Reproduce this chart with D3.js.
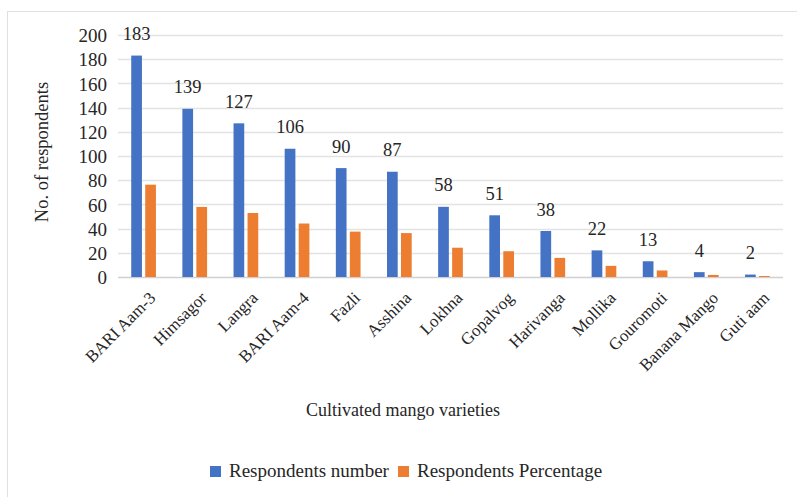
<!DOCTYPE html>
<html><head><meta charset="utf-8">
<script src="https://cdn.jsdelivr.net/npm/d3@7"></script>
<style>body{margin:0;background:#fff}svg{display:block}svg text{font-family:"Liberation Serif","Times New Roman",serif !important;fill:#262626}</style>
</head><body><svg id="c" width="797" height="497" font-family="Liberation Serif"></svg>
<script>
const categories = ["BARI Aam-3","Himsagor","Langra","BARI Aam-4","Fazli","Asshina","Lokhna","Gopalvog","Harivanga","Mollika","Gouromoti","Banana Mango","Guti aam"];
const respondentsNumber = [183,139,127,106,90,87,58,51,38,22,13,4,2];
const respondentsPercentage = [76.3,57.9,52.9,44.2,37.5,36.3,24.2,21.3,15.8,9.2,5.4,1.7,0.8];
const yTicks = [0,20,40,60,80,100,120,140,160,180,200];
const seriesNames = ["Respondents number","Respondents Percentage"];
const colors = ["#4472C4","#ED7D31"];

const svg = d3.select("#c");
svg.append("line").attr("x1",7).attr("x2",797).attr("y1",11.5).attr("y2",11.5).attr("stroke","#e0e0e0");
svg.append("line").attr("x1",7.5).attr("x2",7.5).attr("y1",11).attr("y2",497).attr("stroke","#e0e0e0");

const L=118, R=783, T=35, B=277;
const x = d3.scaleBand().domain(categories).range([L,R]);
const y = d3.scaleLinear().domain([0,200]).range([B,T]);

const g = svg.append("g");
g.selectAll("line.grid").data(yTicks).join("line").attr("class","grid")
  .attr("x1",L).attr("x2",R).attr("y1",d=>Math.round(y(d))+0.5).attr("y2",d=>Math.round(y(d))+0.5)
  .attr("stroke",d=>d===0?"#d0d0d0":"#e3e3e3").attr("stroke-width",1.5);

const yAxis = d3.axisLeft(y).tickValues(yTicks).tickSize(0).tickPadding(0);
const ya = svg.append("g").attr("transform",`translate(${107},0)`).call(yAxis).attr("font-family",null).attr("font-size",null);
ya.select(".domain").remove();
ya.selectAll("text").style("font-size","19px").attr("dy","0.35em");

const bw = 10.7, gap = 3.3;
const off = (x.bandwidth() - (2*bw+gap))/2;
g.selectAll("rect.b").data(respondentsNumber).join("rect").attr("class","b")
  .attr("x",(d,i)=>x(categories[i])+off).attr("width",bw)
  .attr("y",d=>y(d)).attr("height",d=>B-y(d)).attr("fill",colors[0]);
g.selectAll("rect.o").data(respondentsPercentage).join("rect").attr("class","o")
  .attr("x",(d,i)=>x(categories[i])+off+bw+gap).attr("width",bw)
  .attr("y",d=>y(d)).attr("height",d=>B-y(d)).attr("fill",colors[1]);

g.selectAll("text.lab").data(respondentsNumber).join("text").attr("class","lab")
  .attr("x",(d,i)=>x(categories[i])+off+bw/2).attr("y",d=>y(d)-15.5)
  .attr("text-anchor","middle").style("font-size","18.5px").text(d=>d);

const xAxis = d3.axisBottom(x).tickSize(0).tickPadding(0);
const xa = svg.append("g").attr("transform",`translate(0,${B})`).call(xAxis).attr("font-family",null).attr("font-size",null);
xa.select(".domain").remove();
xa.selectAll("text").style("font-size","17px")
  .attr("text-anchor","end").attr("dy","0").attr("y",0)
  .attr("transform","translate(13,22) rotate(-45)");

svg.append("text").attr("transform","translate(48,152) rotate(-90)").attr("text-anchor","middle")
  .style("font-size","18.5px").text("No. of respondents");
svg.append("text").attr("x",403).attr("y",416).attr("text-anchor","middle")
  .style("font-size","18px").text("Cultivated mango varieties");

const leg = svg.append("g");
const lx = [210,398];
seriesNames.forEach((n,i)=>{
  leg.append("rect").attr("x",lx[i]).attr("y",466).attr("width",11).attr("height",11).attr("fill",colors[i]);
  leg.append("text").attr("x",lx[i]+19).attr("y",477).style("font-size","19px").text(n);
});
</script></body></html>
